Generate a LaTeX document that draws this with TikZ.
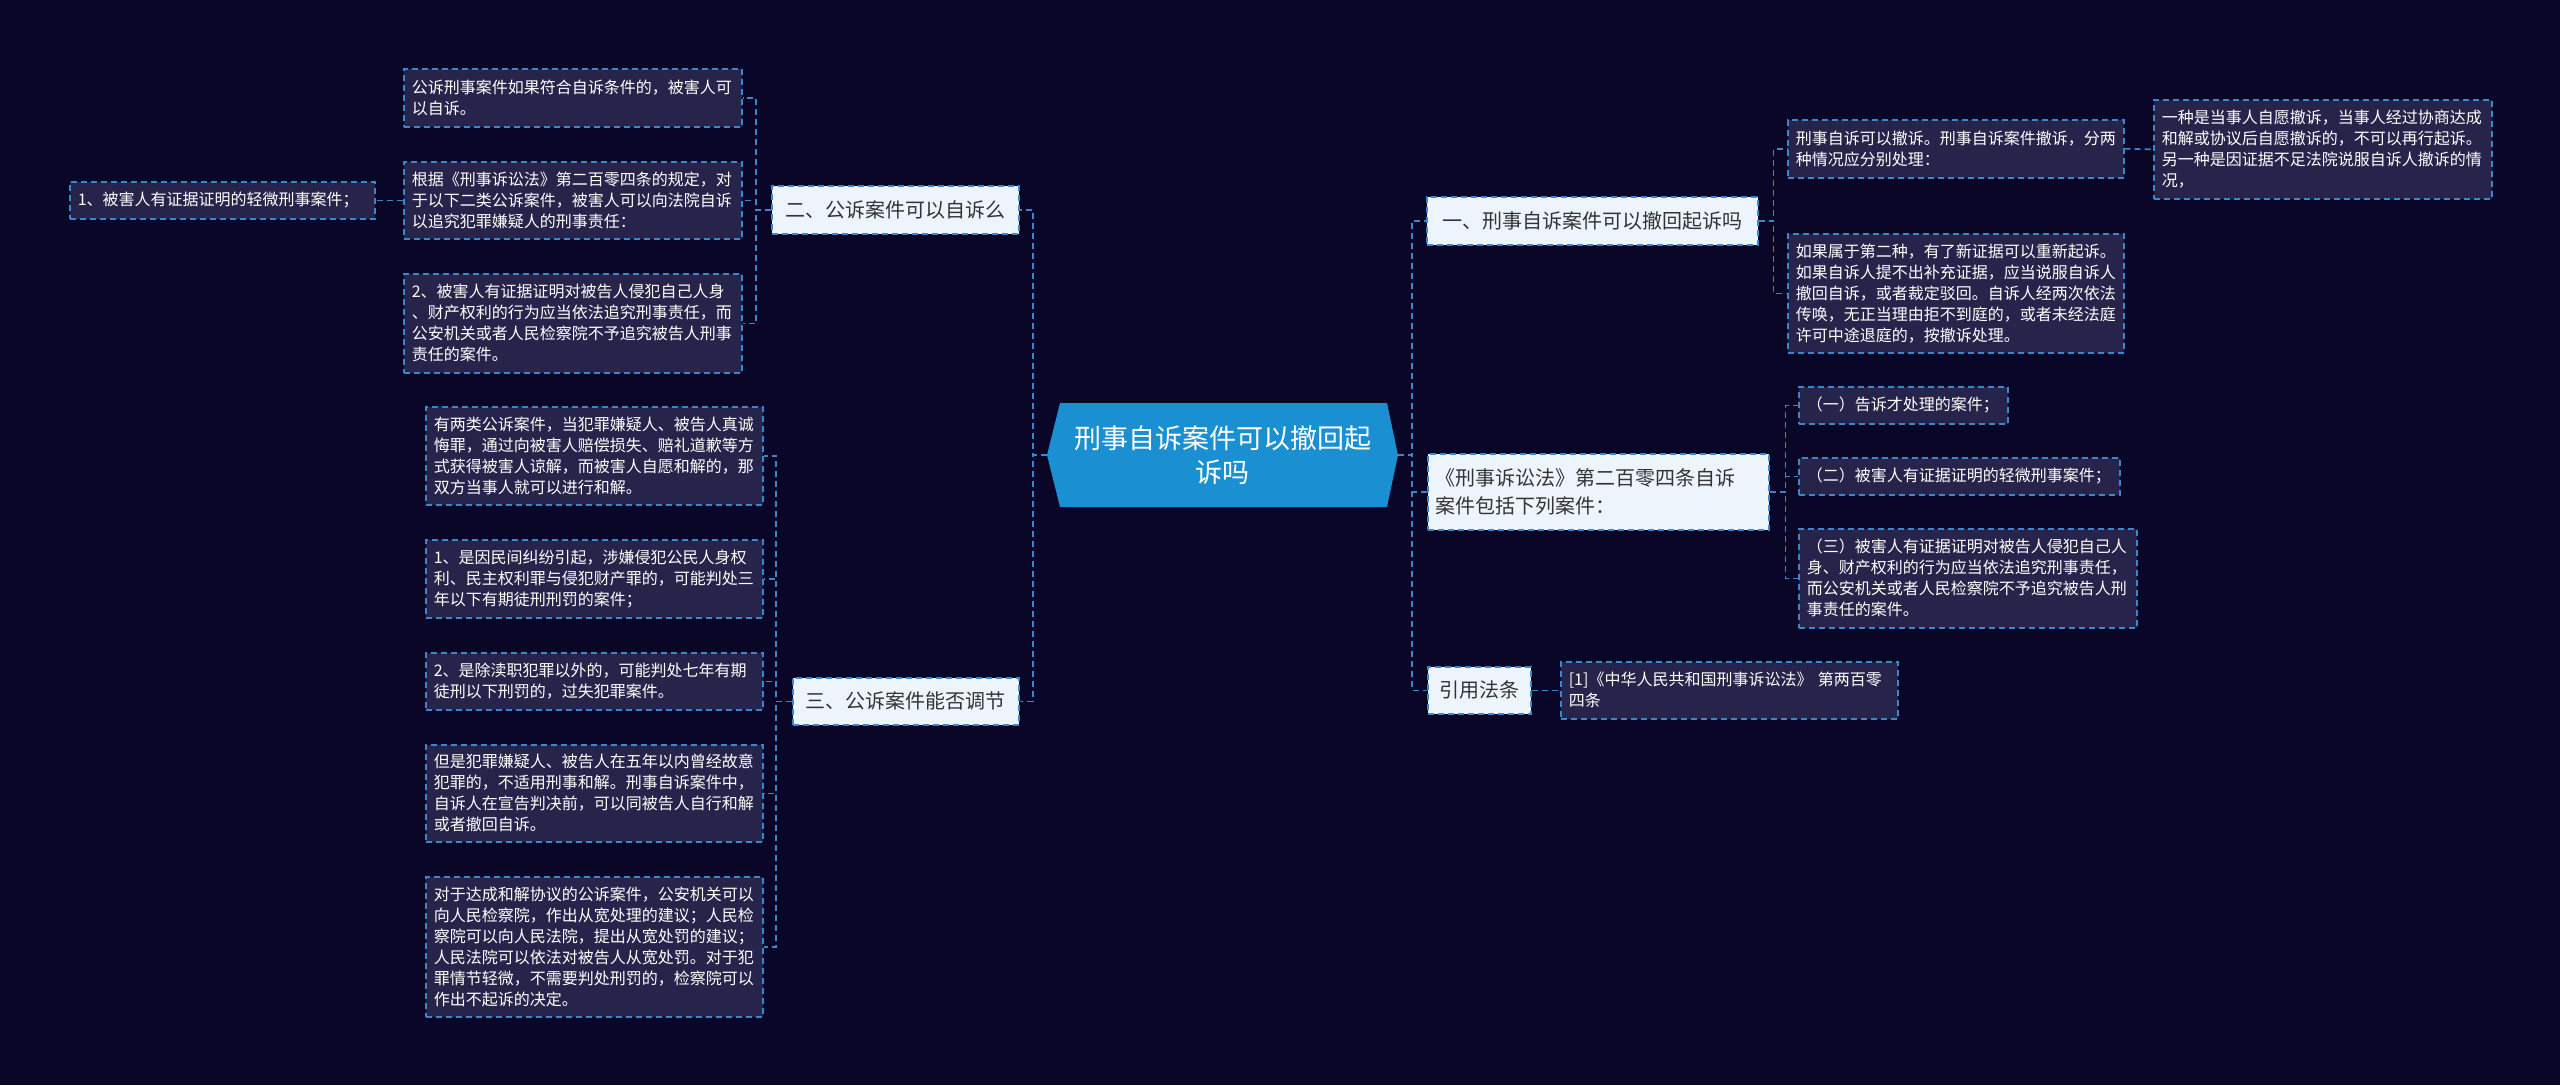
\documentclass[tikz,border=0pt]{standalone}
\usepackage{fontspec}
\newfontfamily\cjk{Noto Sans CJK SC}
\definecolor{bgc}{HTML}{0A0628}
\definecolor{leafc}{HTML}{26244A}
\definecolor{bdc}{HTML}{3C87CC}
\definecolor{brc}{HTML}{EEF4FC}
\definecolor{rootc}{HTML}{1A90D2}
\definecolor{brtext}{HTML}{333333}
\begin{document}
\begin{tikzpicture}[x=1pt,y=-1pt,
  dsh/.style={dash pattern=on 6pt off 4pt, line width=1.6pt},
  conn/.style={draw=bdc, dsh},
  leafbox/.style={draw=bdc, dsh, fill=leafc, text=white, font=\cjk\fontsize{16}{21}\selectfont, align=left, inner xsep=8pt, inner ysep=0pt, anchor=north west},
  branchbox/.style={draw=bdc, dsh, fill=brc, text=brtext, font=\cjk\fontsize{20}{28}\selectfont, inner xsep=8pt, inner ysep=0pt, anchor=north west, align=center},
]
\fill[bgc] (0,0) rectangle (2560,1085);
\useasboundingbox (0,0) rectangle (2560,1085);

% root
\fill[rootc] (1047,455) -- (1060,403) -- (1387,403) -- (1398,455) -- (1387,507) -- (1060,507) -- cycle;
\node[minimum width=351pt, minimum height=104pt, inner sep=0pt, text=white, font=\cjk\fontsize{27}{34}\selectfont, align=center] (root) at (1222.5,455) {刑事自诉案件可以撤回起\\诉吗};

% branches
\node[branchbox, minimum width=247pt, minimum height=48pt] (n2) at (771,185) {二、公诉案件可以自诉么};
\node[branchbox, minimum width=226pt, minimum height=47pt] (n3) at (792,677) {三、公诉案件能否调节};
\node[branchbox, minimum width=331pt, minimum height=48pt] (n1) at (1426,196) {一、刑事自诉案件可以撤回起诉吗};
\node[branchbox, text width=325pt, align=left, minimum height=76pt] (n4) at (1427,453) {《刑事诉讼法》第二百零四条自诉\\案件包括下列案件：};
\node[branchbox, minimum width=103pt, minimum height=47pt] (n5) at (1427,666) {引用法条};

% left leaves
\node[leafbox, text width=322pt, minimum height=58pt] (c21) at (403,68) {公诉刑事案件如果符合自诉条件的，被害人可\\以自诉。};
\node[leafbox, text width=322pt, minimum height=77pt] (c22) at (403,161) {根据《刑事诉讼法》第二百零四条的规定，对\\于以下二类公诉案件，被害人可以向法院自诉\\以追究犯罪嫌疑人的刑事责任：};
\node[leafbox, text width=322pt, minimum height=99pt] (c23) at (403,273) {2、被害人有证据证明对被告人侵犯自己人身\\、财产权利的行为应当依法追究刑事责任，而\\公安机关或者人民检察院不予追究被告人刑事\\责任的案件。};
\node[leafbox, text width=289pt, minimum height=37pt] (c221) at (69,181) {1、被害人有证据证明的轻微刑事案件；};

\node[leafbox, text width=321pt, minimum height=98pt] (c31) at (425,406) {有两类公诉案件，当犯罪嫌疑人、被告人真诚\\悔罪，通过向被害人赔偿损失、赔礼道歉等方\\式获得被害人谅解，而被害人自愿和解的，那\\双方当事人就可以进行和解。};
\node[leafbox, text width=321pt, minimum height=78pt] (c32) at (425,539) {1、是因民间纠纷引起，涉嫌侵犯公民人身权\\利、民主权利罪与侵犯财产罪的，可能判处三\\年以下有期徒刑刑罚的案件；};
\node[leafbox, text width=321pt, minimum height=57pt] (c33) at (425,652) {2、是除渎职犯罪以外的，可能判处七年有期\\徒刑以下刑罚的，过失犯罪案件。};
\node[leafbox, text width=321pt, minimum height=97pt] (c34) at (425,744) {但是犯罪嫌疑人、被告人在五年以内曾经故意\\犯罪的，不适用刑事和解。刑事自诉案件中，\\自诉人在宣告判决前，可以同被告人自行和解\\或者撤回自诉。};
\node[leafbox, text width=321pt, minimum height=140pt] (c35) at (425,876) {对于达成和解协议的公诉案件，公安机关可以\\向人民检察院，作出从宽处理的建议；人民检\\察院可以向人民法院，提出从宽处罚的建议；\\人民法院可以依法对被告人从宽处罚。对于犯\\罪情节轻微，不需要判处刑罚的，检察院可以\\作出不起诉的决定。};

% right leaves
\node[leafbox, text width=320pt, minimum height=58pt] (c11) at (1787,119) {刑事自诉可以撤诉。刑事自诉案件撤诉，分两\\种情况应分别处理：};
\node[leafbox, text width=320pt, minimum height=119pt] (c12) at (1787,233) {如果属于第二种，有了新证据可以重新起诉。\\如果自诉人提不出补充证据，应当说服自诉人\\撤回自诉，或者裁定驳回。自诉人经两次依法\\传唤，无正当理由拒不到庭的，或者未经法庭\\许可中途退庭的，按撤诉处理。};
\node[leafbox, text width=322pt, minimum height=99pt] (c111) at (2153,99) {一种是当事人自愿撤诉，当事人经过协商达成\\和解或协议后自愿撤诉的，不可以再行起诉。\\另一种是因证据不足法院说服自诉人撤诉的情\\况，};
\node[leafbox, text width=193pt, minimum height=37pt] (c41) at (1798,386) {（一）告诉才处理的案件；};
\node[leafbox, text width=305pt, minimum height=37pt] (c42) at (1798,457) {（二）被害人有证据证明的轻微刑事案件；};
\node[leafbox, text width=322pt, minimum height=99pt] (c43) at (1798,528) {（三）被害人有证据证明对被告人侵犯自己人\\身、财产权利的行为应当依法追究刑事责任，\\而公安机关或者人民检察院不予追究被告人刑\\事责任的案件。};
\node[leafbox, text width=321pt, minimum height=57pt] (c51) at (1560,661) {[1]《中华人民共和国刑事诉讼法》 第两百零\\四条};

% connectors
\draw[conn] (root.west) -- ++(-14,0) |- (n2.east);
\draw[conn] (root.west) -- ++(-14,0) |- (n3.east);
\draw[conn] (root.east) -- ++(14,0) |- (n1.west);
\draw[conn] (root.east) -- ++(14,0) |- (n4.west);
\draw[conn] (root.east) -- ++(14,0) |- (n5.west);

\foreach \c in {c21,c22,c23} \draw[conn] (n2.west) -- ++(-15,0) |- (\c.east);
\draw[conn] (c22.west) -- (c221.east);
\foreach \c in {c31,c32,c33,c34,c35} \draw[conn] (n3.west) -- ++(-16,0) |- (\c.east);
\foreach \c in {c11,c12} \draw[conn] (n1.east) -- ++(15,0) |- (\c.west);
\draw[conn] (c11.east) -- (c111.west);
\foreach \c in {c41,c42,c43} \draw[conn] (n4.east) -- ++(16,0) |- (\c.west);
\draw[conn] (n5.east) -- (c51.west);
\end{tikzpicture}
\end{document}
